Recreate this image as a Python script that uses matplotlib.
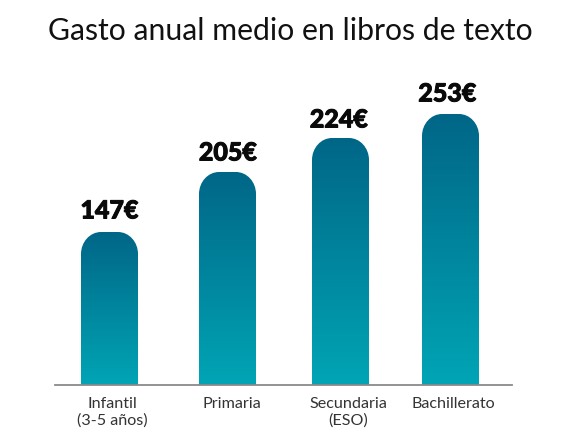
#!/usr/bin/python3
# -*- coding: utf-8 -*-
import numpy as np
import matplotlib
matplotlib.use('Agg')
import matplotlib.pyplot as plt
import matplotlib.patheffects as pe
from matplotlib.colors import LinearSegmentedColormap
from matplotlib.path import Path

categories = ['Infantil\n(3-5 años)', 'Primaria', 'Secundaria\n(ESO)', 'Bachillerato']
value_labels = ['147€', '205€', '224€', '253€']
# bar heights as drawn in the picture (not quite proportional to the labels)
bar_heights = [153, 213, 247, 271]
title = 'Gasto anual medio en libros de texto'

plt.rcParams['font.family'] = ['Lato', 'DejaVu Sans']

fig = plt.figure(figsize=(5.67, 4.42), dpi=100)
# axes in pixel units, y = 0 on the baseline
ax = fig.add_axes([0, 0, 1, 1])

xbar = [109.5, 227.5, 340.5, 450.5]
xval = [109.5, 228, 339, 447.5]
xcat = [112, 232, 348, 453]
label_gap = [21, 19, 18, 20]
width = 57
rx = 20
ry = 22
kk = 0.45  # control point offset for the round corners

cmap = LinearSegmentedColormap.from_list('bars', ['#006687', '#00a5b5'])
grad = np.linspace(0, 1, 256).reshape(-1, 1)

for xx, hh, xv, gap, lab in zip(xbar, bar_heights, xval, label_gap, value_labels):
    x0, x1 = xx - width / 2, xx + width / 2
    im = ax.imshow(grad, extent=[x0, x1, 0, hh], cmap=cmap, aspect='auto', zorder=2)
    path = Path([(x0, 0), (x0, hh - ry),
                 (x0, hh - ry * kk), (x0 + rx * kk, hh), (x0 + rx, hh),
                 (x1 - rx, hh),
                 (x1 - rx * kk, hh), (x1, hh - ry * kk), (x1, hh - ry),
                 (x1, 0), (x0, 0)],
                [Path.MOVETO, Path.LINETO,
                 Path.CURVE4, Path.CURVE4, Path.CURVE4,
                 Path.LINETO,
                 Path.CURVE4, Path.CURVE4, Path.CURVE4,
                 Path.LINETO, Path.CLOSEPOLY])
    im.set_clip_path(path, transform=ax.transData)
    ax.text(xv, hh + gap, lab, ha='center', va='center', fontsize=18,
            fontweight='black', color='#0a0a0a',
            path_effects=[pe.withStroke(linewidth=0.7, foreground='#0a0a0a')])

ax.set_xlim(0, 567)
ax.set_ylim(-57, 385)
ax.axis('off')

ax.plot([55, 512], [0, 0], color='#8a8a8a', lw=1.3, zorder=3)

for xx, cc in zip(xcat, categories):
    ax.text(xx, -11.5, cc, ha='center', va='top', fontsize=11.6, color='#333333',
            linespacing=1.28)

ax.text(290, 354, title, ha='center', va='center', fontsize=21.7, color='#111111')

fig.savefig('out.png', dpi=100)
